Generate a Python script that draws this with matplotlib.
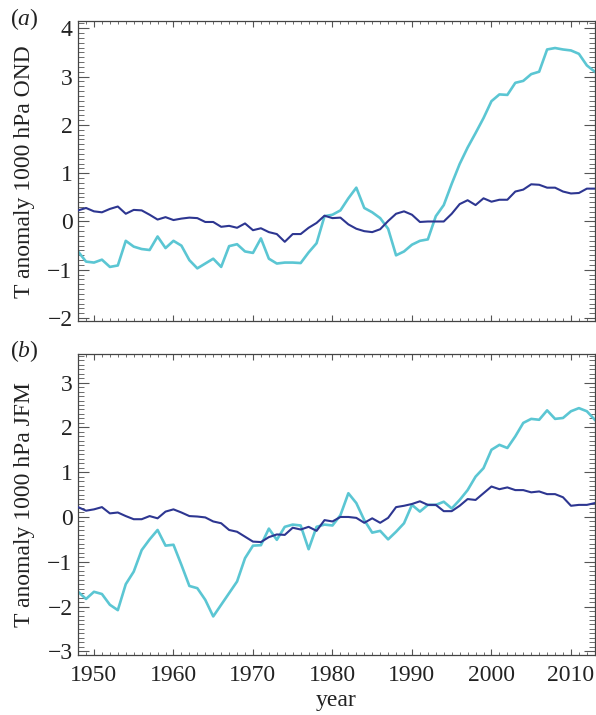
import matplotlib
matplotlib.use('Agg')
import matplotlib.pyplot as plt
from matplotlib.ticker import MultipleLocator
import numpy as np

plt.rcParams['font.family'] = ['Liberation Serif', 'DejaVu Serif']
plt.rcParams['mathtext.fontset'] = 'custom'
plt.rcParams['mathtext.it'] = 'Liberation Serif:italic'
plt.rcParams['mathtext.rm'] = 'Liberation Serif'

years = np.arange(1948, 2014)

# (a) OND, 1000 hPa temperature anomaly
ond_dark = [0.23, 0.28, 0.21, 0.19, 0.26, 0.31, 0.16, 0.24, 0.23, 0.14,
            0.04, 0.09, 0.03, 0.06, 0.08, 0.07, -0.01, -0.01, -0.11, -0.09,
            -0.13, -0.04, -0.18, -0.14, -0.22, -0.26, -0.42, -0.26, -0.26, -0.13,
            -0.03, 0.12, 0.07, 0.08, -0.06, -0.15, -0.20, -0.22, -0.16, 0.01,
            0.16, 0.21, 0.14, -0.01, 0.00, 0.00, 0.00, 0.16, 0.36, 0.44,
            0.34, 0.48, 0.41, 0.45, 0.45, 0.62, 0.66, 0.77, 0.76, 0.70,
            0.70, 0.62, 0.58, 0.59, 0.68, 0.68]
ond_cyan = [-0.62, -0.83, -0.85, -0.79, -0.94, -0.91, -0.40, -0.52, -0.57, -0.59,
            -0.31, -0.55, -0.40, -0.50, -0.80, -0.97, -0.87, -0.77, -0.94, -0.51,
            -0.47, -0.62, -0.65, -0.35, -0.77, -0.87, -0.85, -0.85, -0.86, -0.64,
            -0.45, 0.11, 0.14, 0.23, 0.48, 0.70, 0.28, 0.19, 0.07, -0.15,
            -0.70, -0.62, -0.48, -0.40, -0.37, 0.11, 0.34, 0.78, 1.19, 1.53,
            1.83, 2.14, 2.49, 2.63, 2.62, 2.87, 2.91, 3.05, 3.10, 3.56,
            3.59, 3.56, 3.54, 3.47, 3.23, 3.10]

# (b) JFM, 1000 hPa temperature anomaly
jfm_dark = [0.22, 0.14, 0.17, 0.22, 0.08, 0.10, 0.02, -0.05, -0.05, 0.02,
            -0.03, 0.12, 0.17, 0.10, 0.02, 0.01, -0.01, -0.10, -0.14, -0.29,
            -0.33, -0.44, -0.55, -0.56, -0.45, -0.39, -0.40, -0.24, -0.28, -0.22,
            -0.31, -0.07, -0.10, 0.00, 0.00, -0.02, -0.13, -0.03, -0.13, -0.02,
            0.22, 0.25, 0.29, 0.35, 0.27, 0.27, 0.13, 0.13, 0.25, 0.40,
            0.38, 0.53, 0.68, 0.62, 0.66, 0.60, 0.60, 0.55, 0.57, 0.51,
            0.51, 0.44, 0.25, 0.27, 0.27, 0.31]
jfm_cyan = [-1.67, -1.83, -1.67, -1.72, -1.96, -2.08, -1.50, -1.22, -0.74, -0.50,
            -0.29, -0.64, -0.62, -1.07, -1.54, -1.59, -1.85, -2.22, -1.96, -1.70,
            -1.44, -0.92, -0.64, -0.63, -0.26, -0.51, -0.22, -0.17, -0.19, -0.72,
            -0.22, -0.17, -0.19, 0.04, 0.53, 0.31, -0.07, -0.35, -0.31, -0.50,
            -0.33, -0.14, 0.27, 0.12, 0.27, 0.27, 0.34, 0.19, 0.38, 0.60,
            0.90, 1.09, 1.50, 1.61, 1.54, 1.80, 2.10, 2.19, 2.17, 2.38,
            2.19, 2.21, 2.36, 2.43, 2.36, 2.17]

dark_col = '#2d3691'
cyan_col = '#5bc6d3'
text_col = '#222222'

fig = plt.figure(figsize=(5.96, 7.15), dpi=100)
ax1 = fig.add_axes([0.131, 0.551, 0.867, 0.419])
ax2 = fig.add_axes([0.131, 0.084, 0.867, 0.421])

panels = [
    (ax1, ond_dark, ond_cyan, (-2.06, 4.14), 'T anomaly 1000 hPa OND', 'a', 19),
    (ax2, jfm_dark, jfm_cyan, (-3.08, 3.64), 'T anomaly 1000 hPa JFM', 'b', 351),
]

for ax, dark, cyan, ylim, ylab, letter, ypix in panels:
    ax.plot(years, cyan, color=cyan_col, lw=1.9, zorder=2)
    ax.plot(years, dark, color=dark_col, lw=1.5, zorder=3)
    ax.set_xlim(1948, 2013)
    ax.set_ylim(*ylim)
    ax.xaxis.set_major_locator(MultipleLocator(10))
    ax.xaxis.set_minor_locator(MultipleLocator(1))
    ax.yaxis.set_major_locator(MultipleLocator(1))
    ax.yaxis.set_minor_locator(MultipleLocator(0.1))
    ax.tick_params(which='both', direction='in', top=True, right=True,
                   color='#555555', labelsize=17, labelcolor=text_col)
    ax.tick_params(axis='x', which='major', length=4, width=0.8, pad=7)
    ax.tick_params(axis='x', which='minor', length=2.2, width=0.6)
    ax.tick_params(axis='y', which='major', length=8, width=0.8, pad=4)
    ax.tick_params(axis='y', which='minor', length=4.3, width=0.6)
    for s in ax.spines.values():
        s.set_color('#444444')
        s.set_linewidth(0.9)
    ax.set_ylabel(ylab, fontsize=17, color=text_col)
    ax.yaxis.set_label_coords(-0.083, 0.5)
    fig.text(10 / 596, 1 - ypix / 715, '($\\it{' + letter + '}$)',
             fontsize=17, ha='left', va='center', color=text_col)

ax1.tick_params(labelbottom=False)
ax2.set_xlabel('year', fontsize=17, color=text_col)
ax2.xaxis.set_label_coords(0.5, -0.117)

plt.savefig('out.png', dpi=100)
